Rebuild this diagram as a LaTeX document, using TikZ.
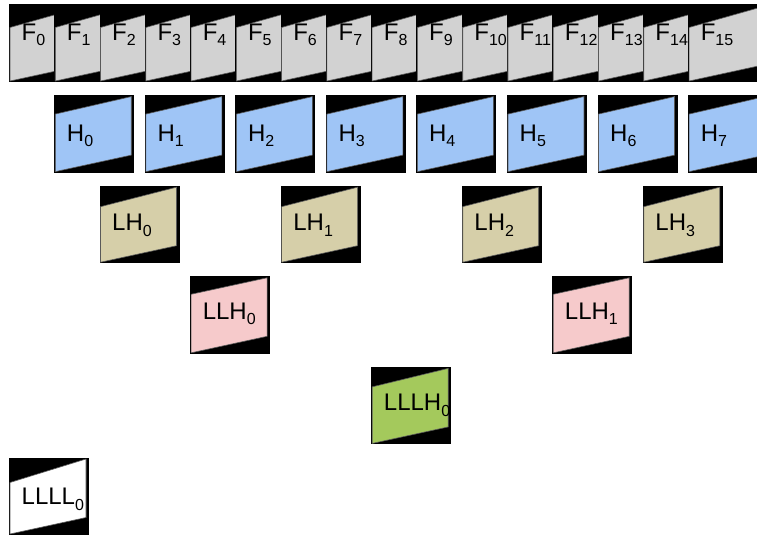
\documentclass[tikz,border=0pt]{standalone}
\usepackage{fontspec}
\setmainfont{Liberation Sans}
\definecolor{cF}{HTML}{D2D2D2}
\definecolor{cH}{HTML}{9FC5F6}
\definecolor{cLH}{HTML}{D6CFA9}
\definecolor{cLLH}{HTML}{F6CACB}
\definecolor{cLLLH}{HTML}{A4C95C}
\definecolor{cL}{HTML}{FFFFFF}
\newcommand\sbx[1]{\raisebox{-5.5pt}{\fontsize{16}{16}\selectfont #1}}
% name, x, y, colour, text, top-left offset, baseline offset
\newcommand\cellbox[7]{%
  \fill[black] (#2,#3) rectangle ++(80,77.5);
  \filldraw[quad, fill=#4] (#2+1,#3+#6) -- (#2+77,#3+1.5) -- (#2+77,#3+60) -- (#2+1,#3+76.5) -- cycle;
  \node[lbl] (#1) at (#2+12.5,#3+#7) {#5};
}
\begin{document}
\begin{tikzpicture}[x=1pt,y=-1pt,
  quad/.style={draw=black!65, line width=0.6pt},
  lbl/.style={anchor=base west, inner sep=0pt, font=\fontsize{24}{24}\selectfont}]
\useasboundingbox (0,0) rectangle (757,535);
\clip (0,0) rectangle (757,535);
% row F
\foreach \i in {0,...,15}{
  \pgfmathsetmacro{\xx}{9+45.27*\i}
  \cellbox{f\i}{\xx}{4.5}{cF}{F\sbx{\i}}{23}{36}
}
% row H
\foreach \i in {0,...,7}{
  \pgfmathsetmacro{\xx}{9+45.27*(2*\i+1)}
  \cellbox{h\i}{\xx}{95.1}{cH}{H\sbx{\i}}{19}{46}
}
% row LH
\foreach \i in {0,...,3}{
  \pgfmathsetmacro{\xx}{9+45.27*(4*\i+2)}
  \cellbox{lh\i}{\xx}{185.7}{cLH}{LH\sbx{\i}}{21}{45}
}
% row LLH
\foreach \i in {0,...,1}{
  \pgfmathsetmacro{\xx}{9+45.27*(8*\i+4)}
  \cellbox{llh\i}{\xx}{276.3}{cLLH}{LLH\sbx{\i}}{18}{43}
}
% row LLLH
\cellbox{lllh0}{371.2}{366.9}{cLLLH}{LLLH\sbx{0}}{20}{44}
% row LLLL
\cellbox{llll0}{9}{457.5}{cL}{LLLL\sbx{0}}{25}{47}
\end{tikzpicture}
\end{document}
